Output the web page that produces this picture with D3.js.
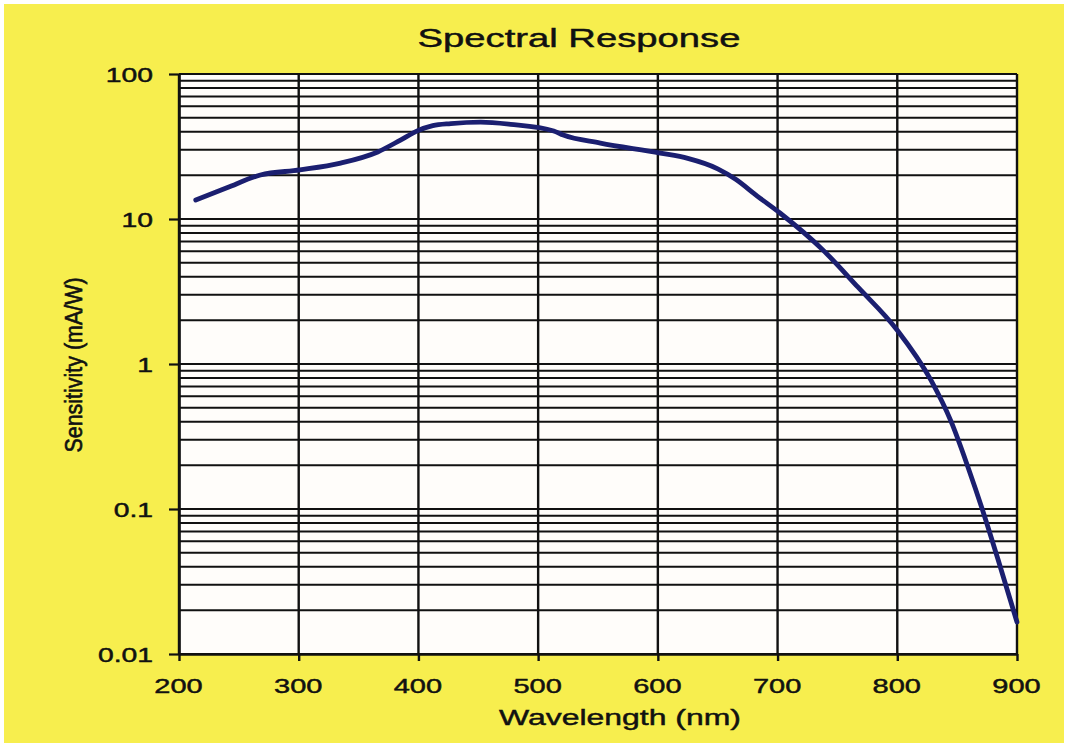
<!DOCTYPE html>
<html>
<head>
<meta charset="utf-8">
<script src="https://cdn.jsdelivr.net/npm/d3@7"></script>
<style>
  html, body { margin: 0; padding: 0; background: #ffffff; }
  svg { display: block; }
  text { font-family: "Liberation Sans", Arial, sans-serif; fill: #111; stroke: #111; stroke-width: 0.45px; }
</style>
</head>
<body>
<svg id="chart" width="1068" height="747"></svg>
<script>
// ---- data ----
const title = "Spectral Response";
const xTitle = "Wavelength (nm)";
const yTitle = "Sensitivity (mA/W)";

const wavelength = [214, 240, 268, 301, 335, 366, 385, 399, 412, 427, 452, 477, 513, 521, 552, 602, 625, 650, 665, 683, 702, 738, 767, 800, 828, 845, 859, 872, 886, 900];
const sensitivity = [13.5, 16.4, 20.1, 21.8, 24.3, 29, 35, 40.5, 44, 45.5, 46.6, 45, 40.5, 37.9, 33.4, 28.5, 26.2, 22.2, 18.8, 14.4, 11.0, 6.1, 3.4, 1.71, 0.776, 0.40, 0.195, 0.094, 0.04, 0.0166];

const xTicks = [200, 300, 400, 500, 600, 700, 800, 900];
const yTicks = [0.01, 0.1, 1, 10, 100];
const yTickLabels = ["0.01", "0.1", "1", "10", "100"];

// ---- layout ----
const svg = d3.select("#chart");
const W = 1068, H = 747;
const plot = { left: 179, right: 1017, top: 74, bottom: 654 };
const SX = 1.45; // horizontal stretch of the reference lettering

svg.append("rect").attr("x", 0).attr("y", 0).attr("width", W).attr("height", H).attr("fill", "#ffffff");
svg.append("rect").attr("x", 4).attr("y", 4).attr("width", W - 8).attr("height", H - 8).attr("fill", "#f7ee4e");

const x = d3.scaleLinear().domain([200, 900]).range([plot.left, plot.right]);
const y = d3.scaleLog().domain([0.01, 100]).range([plot.bottom, plot.top]);

svg.append("rect")
  .attr("x", plot.left).attr("y", plot.top)
  .attr("width", plot.right - plot.left).attr("height", plot.bottom - plot.top)
  .attr("fill", "#fffdfa");

// minor + major horizontal gridlines
const yGridVals = [];
for (let e = -2; e <= 1; e++) for (let m = 1; m <= 9; m++) yGridVals.push(m * Math.pow(10, e));
yGridVals.push(100);

svg.append("g").selectAll("line").data(yGridVals).join("line")
  .attr("x1", plot.left).attr("x2", plot.right)
  .attr("y1", d => y(d)).attr("y2", d => y(d))
  .attr("stroke", "#111").attr("stroke-width", 2);

svg.append("g").selectAll("line").data(xTicks).join("line")
  .attr("x1", d => x(d)).attr("x2", d => x(d))
  .attr("y1", plot.top).attr("y2", plot.bottom)
  .attr("stroke", "#111").attr("stroke-width", 2.4);

// axes
const yAxis = svg.append("g").attr("transform", `translate(${plot.left},0)`)
  .call(d3.axisLeft(y).tickValues(yTicks).tickFormat((d, i) => yTickLabels[i]).tickSize(10).tickSizeOuter(0));
yAxis.select(".domain").attr("stroke", "#111").attr("stroke-width", 2.6);
yAxis.selectAll(".tick line").attr("stroke", "#111").attr("stroke-width", 2.2);
yAxis.selectAll(".tick text")
  .attr("x", null).attr("dy", null).attr("y", 0)
  .attr("transform", `translate(-26,7) scale(${SX},1)`)
  .attr("text-anchor", "end")
  .style("font-size", "19.5px").attr("fill", "#111");

const xAxis = svg.append("g").attr("transform", `translate(0,${plot.bottom})`)
  .call(d3.axisBottom(x).tickValues(xTicks).tickFormat(d3.format("d")).tickSize(7).tickSizeOuter(0));
xAxis.select(".domain").attr("stroke", "#111").attr("stroke-width", 2.6);
xAxis.selectAll(".tick line").attr("stroke", "#111").attr("stroke-width", 2.4);
xAxis.selectAll(".tick text")
  .attr("y", 0).attr("dy", null)
  .attr("transform", `translate(-1,39) scale(${SX},1)`)
  .attr("text-anchor", "middle")
  .style("font-size", "20px").attr("fill", "#111");

// curve
const line = d3.line()
  .x((d, i) => x(wavelength[i]))
  .y(d => y(d))
  .curve(d3.curveMonotoneX);

svg.append("path")
  .datum(sensitivity)
  .attr("d", line)
  .attr("fill", "none")
  .attr("stroke", "#1b1f70")
  .attr("stroke-width", 4.8)
  .attr("stroke-linecap", "round")
  .attr("stroke-linejoin", "round");

// titles
svg.append("text")
  .attr("transform", `translate(579,47) scale(1.47,1)`)
  .attr("text-anchor", "middle")
  .style("font-size", "26px")
  .text(title);

svg.append("text")
  .attr("transform", `translate(620,725) scale(1.42,1)`)
  .attr("text-anchor", "middle")
  .style("font-size", "22.5px")
  .text(xTitle);

svg.append("text")
  .attr("transform", `translate(82,365) rotate(-90) scale(1.3,1.45)`)
  .attr("text-anchor", "middle")
  .style("font-size", "16.5px")
  .text(yTitle);
</script>
</body>
</html>
